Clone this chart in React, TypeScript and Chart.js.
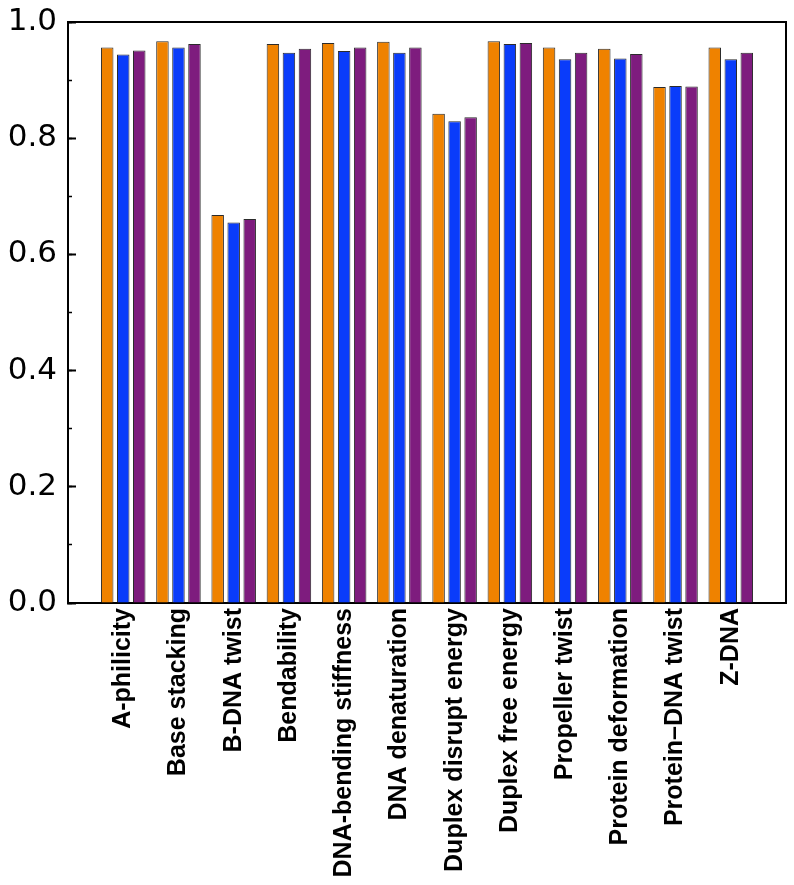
import React, { useEffect, useRef } from "react";
import { Chart, registerables } from "chart.js";

Chart.register(...registerables);

const categories = [
  "A-philicity",
  "Base stacking",
  "B-DNA twist",
  "Bendability",
  "DNA-bending stiffness",
  "DNA denaturation",
  "Duplex disrupt energy",
  "Duplex free energy",
  "Propeller twist",
  "Protein deformation",
  "Protein–DNA twist",
  "Z-DNA",
];

const orangeValues = [0.956, 0.967, 0.668, 0.962, 0.964, 0.966, 0.842, 0.967, 0.956, 0.954, 0.888, 0.956];
const blueValues = [0.944, 0.956, 0.655, 0.947, 0.95, 0.947, 0.829, 0.962, 0.936, 0.937, 0.89, 0.936];
const purpleValues = [0.951, 0.962, 0.661, 0.954, 0.956, 0.956, 0.836, 0.964, 0.947, 0.945, 0.889, 0.947];

const yTickValues = [0, 0.2, 0.4, 0.6, 0.8, 1.0];

const zeroPad = (s: any) => {
  s.paddingTop = 0;
  s.paddingBottom = 0;
  s.paddingLeft = 0;
  s.paddingRight = 0;
};

export default function App() {
  const canvasRef = useRef<HTMLCanvasElement | null>(null);

  useEffect(() => {
    if (!canvasRef.current) return;
    const pad = (arr: number[]) => [null, ...arr, null];
    const labels = ["", ...categories, ""];
    const borderCol = "#2b2b2b";
    const chart = new Chart(canvasRef.current, {
      type: "bar",
      data: {
        labels,
        datasets: [
          { label: "Series 1", data: pad(orangeValues), backgroundColor: "#EF8200", borderColor: borderCol, borderWidth: 1 },
          { label: "Series 2", data: pad(blueValues), backgroundColor: "#0A3CFA", borderColor: borderCol, borderWidth: 1 },
          { label: "Series 3", data: pad(purpleValues), backgroundColor: "#7E1C7E", borderColor: borderCol, borderWidth: 1 },
        ],
      },
      options: {
        animation: false,
        responsive: true,
        maintainAspectRatio: false,
        layout: { padding: { left: 0, right: 8, top: 22, bottom: 0 } },
        datasets: { bar: { categoryPercentage: 0.87, barPercentage: 0.78 } },
        plugins: { legend: { display: false }, tooltip: { enabled: false } },
        scales: {
          x: {
            type: "category",
            position: "bottom",
            offset: false,
            grid: { display: false, drawTicks: false },
            border: { display: true, color: "#000", width: 2 },
            ticks: {
              autoSkip: false,
              minRotation: 90,
              maxRotation: 90,
              padding: 5,
              color: "#000",
              font: { family: "'Liberation Sans', Arial, sans-serif", size: 25, weight: "bold" },
            },
            afterFit: (s: any) => { s.height = 282; zeroPad(s); },
          },
          xTop: {
            type: "category",
            position: "top",
            offset: false,
            grid: { display: false, drawTicks: false },
            border: { display: true, color: "#000", width: 2 },
            ticks: { display: false },
            afterFit: (s: any) => { s.height = 0; zeroPad(s); },
          },
          y: {
            type: "linear",
            position: "left",
            weight: 1,
            min: 0,
            max: 1,
            afterBuildTicks: (s: any) => { s.ticks = yTickValues.map((v) => ({ value: v })); },
            grid: { display: true, drawOnChartArea: false, drawTicks: true, tickLength: -8, tickWidth: 2, tickColor: "#000" },
            border: { display: true, color: "#000", width: 2 },
            ticks: {
              padding: 19,
              color: "#000",
              font: { family: "'DejaVu Sans', sans-serif", size: 31 },
              callback: (v: any) => Number(v).toFixed(1),
            },
            afterFit: (s: any) => { s.width = 68; zeroPad(s); },
          },
          yMinor: {
            type: "linear",
            position: "left",
            weight: 0,
            min: 0,
            max: 1,
            ticks: { display: false, stepSize: 0.1 },
            grid: { display: true, drawOnChartArea: false, drawTicks: true, tickLength: -4, tickWidth: 1.5, tickColor: "#000" },
            border: { display: false },
            afterFit: (s: any) => { s.width = 0; zeroPad(s); },
          },
          yRight: {
            type: "linear",
            position: "right",
            min: 0,
            max: 1,
            ticks: { display: false },
            grid: { display: false, drawTicks: false },
            border: { display: true, color: "#000", width: 2 },
            afterFit: (s: any) => { s.width = 0; zeroPad(s); },
          },
        },
      } as any,
    });
    return () => chart.destroy();
  }, []);

  return (
    <div style={{ position: "absolute", left: 0, top: 0, width: 794, height: 885, background: "#fff" }}>
      <canvas ref={canvasRef} />
    </div>
  );
}
